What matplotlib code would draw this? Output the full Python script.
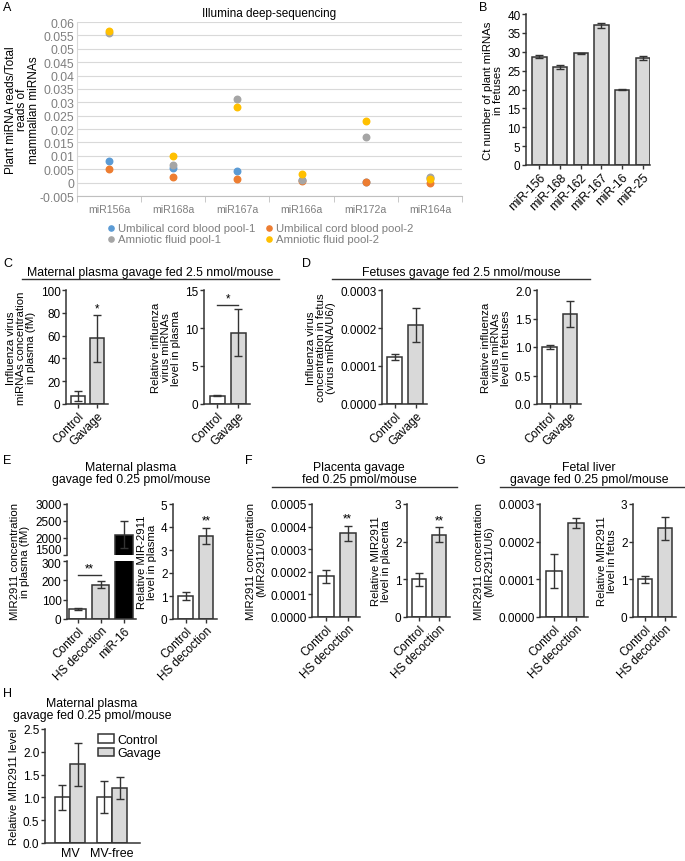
import numpy as np
import matplotlib
matplotlib.use("Agg")
from matplotlib import pyplot as plt
from matplotlib.lines import Line2D
from matplotlib.transforms import ScaledTranslation

plt.rcParams['font.family'] = ['Liberation Sans', 'DejaVu Sans']
plt.rcParams['font.size'] = 8.3
plt.rcParams['xtick.labelsize'] = 8.5
plt.rcParams['ytick.labelsize'] = 8.5
plt.rcParams['axes.labelsize'] = 8.2

W, H = 685, 862
EDGE = "#333333"
GREY_BAR = "#d9d9d9"

# ---- data ----
# A: Illumina deep-sequencing
mirnas_a = ["miR156a", "miR168a", "miR167a", "miR166a", "miR172a", "miR164a"]
cord_pool1 = [0.0080, 0.0055, 0.0043, 0.0010, 0.0003, 0.0018]
cord_pool2 = [0.0050, 0.0020, 0.0015, 0.0005, 0.0001, 0.0000]
amnio_pool1 = [0.0558, 0.0065, 0.0311, 0.0010, 0.0170, 0.0022]
amnio_pool2 = [0.0567, 0.0099, 0.0281, 0.0032, 0.0231, 0.0015]

# B: Ct numbers in fetuses
mirnas_b = ["miR-156", "miR-168", "miR-162", "miR-167", "miR-16", "miR-25"]
ct_mean = [28.7, 25.9, 29.6, 37.0, 20.0, 28.3]
ct_err = [0.4, 0.5, 0.2, 0.6, 0.2, 0.5]

groups_cd = ["Control", "Gavage"]
groups_efg = ["Control", "HS decoction"]

c_conc = [7.0, 57.5]
c_conc_err = [4.0, 21.0]
c_rel = [1.1, 9.4]
c_rel_err = [0.05, 3.1]

d_conc = [0.000123, 0.000207]
d_conc_err = [0.000008, 0.000045]
d_rel = [1.0, 1.58]
d_rel_err = [0.04, 0.23]

e_groups = ["Control", "HS decoction", "miR-16"]
e_conc = [50, 178, 2100]
e_conc_err = [5, 17, 390]
e_rel = [1.0, 3.62]
e_rel_err = [0.17, 0.35]

f_conc = [0.00018, 0.00037]
f_conc_err = [0.00003, 0.000033]
f_rel = [1.0, 2.18]
f_rel_err = [0.18, 0.2]

g_conc = [0.000122, 0.00025]
g_conc_err = [0.000045, 0.000013]
g_rel = [1.0, 2.35]
g_rel_err = [0.09, 0.3]

h_cats = ["MV", "MV-free"]
h_control = [1.0, 1.0]
h_control_err = [0.28, 0.35]
h_gavage = [1.73, 1.2]
h_gavage_err = [0.47, 0.24]

fig = plt.figure(figsize=(W / 100, H / 100), dpi=100)


def px(x0, y0, x1, y1):
    return fig.add_axes([x0 / W, 1 - y1 / H, (x1 - x0) / W, (y1 - y0) / H])


def style(ax):
    for s in ["top", "right"]:
        ax.spines[s].set_visible(False)
    for s in ["left", "bottom"]:
        ax.spines[s].set_color(EDGE)
        ax.spines[s].set_linewidth(1.1)
    ax.tick_params(length=3, width=1, pad=1, color=EDGE)


def bar_axes(rect, labels, vals, errs, colors, ylim, yticks, fmt, ylabel,
             xlim=(-0.62, 1.55), width=0.72):
    ax = px(*rect)
    x = np.arange(len(vals))
    ax.bar(x, vals, width, color=colors, edgecolor=EDGE, linewidth=1.1, zorder=2)
    ax.errorbar(x, vals, yerr=errs, fmt="none", ecolor=EDGE, elinewidth=1,
                capsize=3, capthick=1, zorder=3)
    ax.set_xlim(*xlim)
    ax.set_ylim(*ylim)
    ax.set_yticks(yticks)
    ax.set_yticklabels([fmt.format(t) for t in yticks])
    ax.set_xticks(x)
    ax.set_xticklabels(labels, rotation=45, ha="right", rotation_mode="anchor")
    ax.set_ylabel(ylabel, linespacing=1.0, labelpad=3)
    style(ax)
    return ax


def head(text, xc, y, line=None):
    fig.text(xc / W, 1 - y / H, text, ha="center", va="center", fontsize=8.8,
             linespacing=1.05)
    if line is not None:
        fig.add_artist(Line2D([line[0] / W, line[1] / W], [1 - line[2] / H] * 2,
                              color=EDGE, lw=1))


def letter(t, x, y):
    fig.text(x / W, 1 - y / H, t, ha="left", va="center", fontsize=9)


# ---- A ----
axa = px(77, 23, 462, 197)
xa = np.arange(len(mirnas_a))
series_a = [(cord_pool1, "#5b9bd5", "Umbilical cord blood pool-1"),
            (cord_pool2, "#ed7d31", "Umbilical cord blood pool-2"),
            (amnio_pool1, "#a5a5a5", "Amniotic fluid pool-1"),
            (amnio_pool2, "#ffc000", "Amniotic fluid pool-2")]
handles = {}
for vals, col, lab in series_a:
    handles[lab] = axa.scatter(xa, vals, s=22, color=col, zorder=3, label=lab)
axa.set_xlim(-0.5, 5.5)
axa.set_ylim(-0.005, 0.06)
yt = np.arange(-0.005, 0.0601, 0.005)
axa.set_yticks(yt)
axa.set_yticklabels(["{:g}".format(round(v, 3)) for v in yt])
axa.yaxis.grid(True, color="#d9d9d9", lw=0.8)
axa.set_axisbelow(True)
axa.set_xticks(xa)
axa.set_xticklabels(mirnas_a)
axa.set_xticks(np.arange(-0.5, 5.6, 1), minor=True)
axa.tick_params(axis="x", which="major", length=0, pad=6, labelcolor="#7f7f7f", labelsize=7.6)
axa.tick_params(axis="x", which="minor", length=4, color="#bfbfbf")
axa.tick_params(axis="y", length=0, pad=2, labelcolor="#7f7f7f", labelsize=8.7)
for s in ["top", "right"]:
    axa.spines[s].set_visible(False)
axa.spines["left"].set_color("#d9d9d9")
axa.spines["bottom"].set_color("#bfbfbf")
axa.set_ylabel("Plant miRNA reads/Total\nreads of\nmammalian miRNAs", linespacing=0.95,
               fontsize=8.5)
axa.yaxis.set_label_coords(-0.097, 0.5)
axa.set_title("Illumina deep-sequencing", fontsize=8.5, pad=4)
order = ["Umbilical cord blood pool-1", "Amniotic fluid pool-1",
         "Umbilical cord blood pool-2", "Amniotic fluid pool-2"]
fig.legend([handles[k] for k in order], order, ncol=2, frameon=False,
           loc="upper left", bbox_to_anchor=(100 / W, 1 - 219 / H),
           fontsize=8.2, labelcolor="#7f7f7f", handletextpad=0.0, columnspacing=0.6,
           labelspacing=0.1, borderaxespad=0, handlelength=1.2, markerscale=0.8)

# ---- B ----
axb = bar_axes((526, 15, 650, 166), mirnas_b, ct_mean, ct_err, GREY_BAR,
               (0, 40), np.arange(0, 41, 5), "{:g}",
               "Ct number of plant miRNAs\nin fetuses", xlim=(-0.65, 5.35), width=0.7)
axb.tick_params(axis="x", labelsize=8.8)

# ---- C ----
head("Maternal plasma gavage fed 2.5 nmol/mouse", 150, 273, (22, 279, 280))
c1 = bar_axes((66, 291, 108, 405), groups_cd, c_conc, c_conc_err, ["white", GREY_BAR],
              (0, 100), np.arange(0, 101, 20), "{:g}",
              "Influenza virus\nmiRNAs concentration\nin plasma (fM)")
c1.text(1, c_conc[1] + c_conc_err[1] + 0.5, "*", ha="center", va="bottom")
c2 = bar_axes((204, 291, 250, 405), groups_cd, c_rel, c_rel_err, ["white", GREY_BAR],
              (0, 15), [0, 5, 10, 15], "{:g}",
              "Relative influenza\nvirus miRNAs\nlevel in plasma")
c2.plot([0, 1], [13.0, 13.0], color=EDGE, lw=1, clip_on=False)
c2.text(0.5, 13.1, "*", ha="center", va="bottom")

# ---- D ----
head("Fetuses gavage fed 2.5 nmol/mouse", 461, 273, (332, 590, 280))
bar_axes((382, 291, 427, 405), groups_cd, d_conc, d_conc_err, ["white", GREY_BAR],
         (0, 0.0003), [0, 0.0001, 0.0002, 0.0003], "{:.4f}",
         "Influenza virus\nconcentration in fetus\n(virus miRNA/U6/)")
bar_axes((537, 291, 581, 405), groups_cd, d_rel, d_rel_err, ["white", GREY_BAR],
         (0, 2.0), [0, 0.5, 1.0, 1.5, 2.0], "{:.1f}",
         "Relative influenza\nvirus miRNAs\nlevel in fetuses")

# ---- E (broken axis) ----
head("Maternal plasma\ngavage fed 0.25 pmol/mouse", 131, 474)
e_cols = ["white", GREY_BAR, "black"]
e_xlim = (-0.46, 2.52)
ex = np.arange(len(e_conc))
e_low = px(67, 562, 136, 620)
e_up = px(67, 505, 136, 556)
for ax in (e_low, e_up):
    ax.bar(ex, e_conc, 0.74, color=e_cols, edgecolor=EDGE, linewidth=1.1, zorder=2)
    ax.errorbar(ex, e_conc, yerr=e_conc_err, fmt="none", ecolor=EDGE, elinewidth=1,
                capsize=3, capthick=1, zorder=3)
    ax.set_xlim(*e_xlim)
    style(ax)
e_low.set_ylim(0, 300)
e_low.set_yticks([0, 100, 200, 300])
e_up.set_ylim(1500, 3000)
e_up.set_yticks([1500, 2000, 2500, 3000])
e_up.spines["bottom"].set_visible(False)
e_up.set_xticks([])
e_low.set_xticks(ex)
e_low.set_xticklabels(e_groups, rotation=45, ha="right", rotation_mode="anchor")
# squeeze the two labels at the break apart a little
fig.canvas.draw()
lab_1500 = e_up.get_yticklabels()[0]
lab_1500.set_va("bottom")
lab_1500.set_transform(lab_1500.get_transform() + ScaledTranslation(0, -1 / 72, fig.dpi_scale_trans))
lab_300 = e_low.get_yticklabels()[-1]
lab_300.set_va("top")
lab_300.set_transform(lab_300.get_transform() + ScaledTranslation(0, 2 / 72, fig.dpi_scale_trans))
e_low.plot([0, 1], [230, 230], color=EDGE, lw=1)
e_low.text(0.5, 232, "**", ha="center", va="bottom")
fig.text(20 / W, 1 - 562 / H, "MIR2911 concentration\nin plasma (fM)", rotation=90,
         ha="center", va="center", linespacing=1.0, fontsize=8.2)
e2 = bar_axes((173, 505, 217, 620), groups_efg, e_rel, e_rel_err, ["white", GREY_BAR],
              (0, 5), [0, 1, 2, 3, 4, 5], "{:g}",
              "Relative MIR-2911\nlevel in plasma")
e2.text(1, e_rel[1] + e_rel_err[1] + 0.05, "**", ha="center", va="bottom")

# ---- F ----
head("Placenta gavage\nfed 0.25 pmol/mouse", 359, 474, (272, 457, 488))
f1 = bar_axes((312, 505, 360, 618), groups_efg, f_conc, f_conc_err, ["white", GREY_BAR],
              (0, 0.0005), [0, 0.0001, 0.0002, 0.0003, 0.0004, 0.0005], "{:.4f}",
              "MIR2911 concentration\n(MIR2911/U6)")
f1.text(1, f_conc[1] + f_conc_err[1] + 0.000005, "**", ha="center", va="bottom")
f2 = bar_axes((407, 505, 450, 618), groups_efg, f_rel, f_rel_err, ["white", GREY_BAR],
              (0, 3), [0, 1, 2, 3], "{:g}",
              "Relative MIR2911\nlevel in placenta")
f2.text(1, f_rel[1] + f_rel_err[1] + 0.03, "**", ha="center", va="bottom")

# ---- G ----
head("Fetal liver\ngavage fed 0.25 pmol/mouse", 589, 474, (500, 685, 488))
bar_axes((540, 505, 588, 618), groups_efg, g_conc, g_conc_err, ["white", GREY_BAR],
         (0, 0.0003), [0, 0.0001, 0.0002, 0.0003], "{:.4f}",
         "MIR2911 concentration\n(MIR2911/U6)")
bar_axes((633, 505, 676, 618), groups_efg, g_rel, g_rel_err, ["white", GREY_BAR],
         (0, 3), [0, 1, 2, 3], "{:g}",
         "Relative MIR2911\nlevel in fetus")

# ---- H ----
head("Maternal plasma\ngavage fed 0.25 pmol/mouse", 92, 710)
axh = px(45, 730, 140, 844)
hx = np.arange(len(h_cats))
axh.bar(hx - 0.185, h_control, 0.36, color="white", edgecolor=EDGE, linewidth=1.1,
        zorder=2, label="Control")
axh.bar(hx + 0.185, h_gavage, 0.36, color=GREY_BAR, edgecolor=EDGE, linewidth=1.1,
        zorder=2, label="Gavage")
axh.errorbar(hx - 0.185, h_control, yerr=h_control_err, fmt="none", ecolor=EDGE,
             elinewidth=1, capsize=3, capthick=1, zorder=3)
axh.errorbar(hx + 0.185, h_gavage, yerr=h_gavage_err, fmt="none", ecolor=EDGE,
             elinewidth=1, capsize=3, capthick=1, zorder=3)
axh.set_xlim(-0.6, 1.67)
axh.set_ylim(0, 2.5)
axh.set_yticks(np.arange(0, 2.51, 0.5))
axh.set_yticklabels(["{:.1f}".format(v) for v in np.arange(0, 2.51, 0.5)])
axh.set_xticks(hx)
axh.set_xticklabels(h_cats)
axh.set_ylabel("Relative MIR2911 level", labelpad=3)
style(axh)
axh.tick_params(axis="x", length=0, pad=3, labelsize=9)
axh.legend(loc="upper left", bbox_to_anchor=(0.5, 1.0), frameon=False, fontsize=9,
           handlelength=1.3, handleheight=0.7, handletextpad=0.3, labelspacing=0.1,
           borderaxespad=0)

for t, x, y in [("A", 3, 8), ("B", 479, 8), ("C", 3, 264), ("D", 302, 264),
                ("E", 3, 461), ("F", 245, 461), ("G", 475, 461), ("H", 3, 694)]:
    letter(t, x, y)

fig.savefig("out.png", dpi=100)
